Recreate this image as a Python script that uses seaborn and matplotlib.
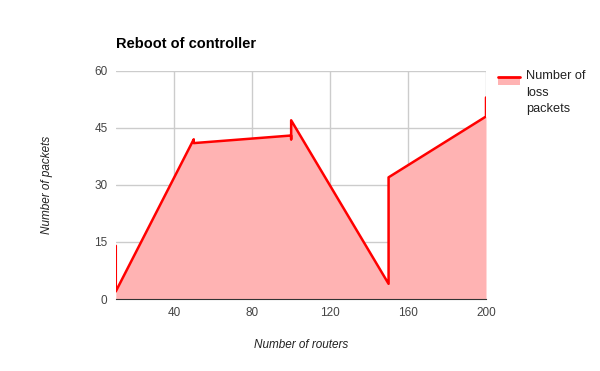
import matplotlib
matplotlib.use("Agg")
import matplotlib.pyplot as plt
import seaborn as sns
import pandas as pd
from matplotlib.lines import Line2D
from matplotlib.patches import Rectangle

routers = [10, 10, 50, 50, 100, 100, 100, 150, 150, 200, 200]
loss_packets = [14, 2, 42, 41, 43, 42, 47, 4, 32, 48, 53]
x_ticks = [40, 80, 120, 160, 200]
y_ticks = [0, 15, 30, 45, 60]

df = pd.DataFrame({"routers": routers, "loss": loss_packets})

sns.set_style("white")
plt.rcParams["font.family"] = ["Liberation Sans", "DejaVu Sans"]

fig = plt.figure(figsize=(6, 3.71), dpi=100)
ax = fig.add_axes([0.193, 0.194, 0.617, 0.615])

ax.fill_between(df["routers"], df["loss"], 0, color="#ffb3b3", linewidth=0, zorder=1)
sns.lineplot(data=df, x="routers", y="loss", sort=False, estimator=None,
             color="#ff0000", linewidth=1.8, ax=ax, zorder=3)

ax.set_xlim(10, 200)
ax.set_ylim(0, 60)
ax.set_xticks(x_ticks)
ax.set_yticks(y_ticks)
ax.grid(True, color="#cccccc", linewidth=1, zorder=0)
ax.set_axisbelow(True)
for s in ["top", "right", "left"]:
    ax.spines[s].set_visible(False)
ax.spines["bottom"].set_color("#333333")
ax.tick_params(length=0, labelsize=8.5, colors="#444444", pad=6)

ax.set_xlabel("Number of routers", fontsize=8.5, style="italic", color="#222222", labelpad=14)
ax.set_ylabel("Number of packets", fontsize=8.5, style="italic", color="#222222", labelpad=30)
fig.text(0.193, 0.87, "Reboot of controller", fontsize=10.5, fontweight="bold", color="#000000")

# legend drawn by hand: red line over a pink swatch, three-line label
fig.add_artist(Rectangle((498 / 600, 1 - 85 / 371), 22 / 600, 7 / 371,
                         transform=fig.transFigure, facecolor="#ffb3b3", edgecolor="none"))
fig.add_artist(Line2D([498 / 600, 520 / 600], [1 - 77 / 371, 1 - 77 / 371],
                      transform=fig.transFigure, color="#ff0000", linewidth=2))
fig.text(526 / 600, 1 - 70 / 371, "Number of\nloss\npackets", fontsize=9.2, color="#222222",
         va="top", ha="left", linespacing=1.5)

fig.savefig("out.png", dpi=100)
